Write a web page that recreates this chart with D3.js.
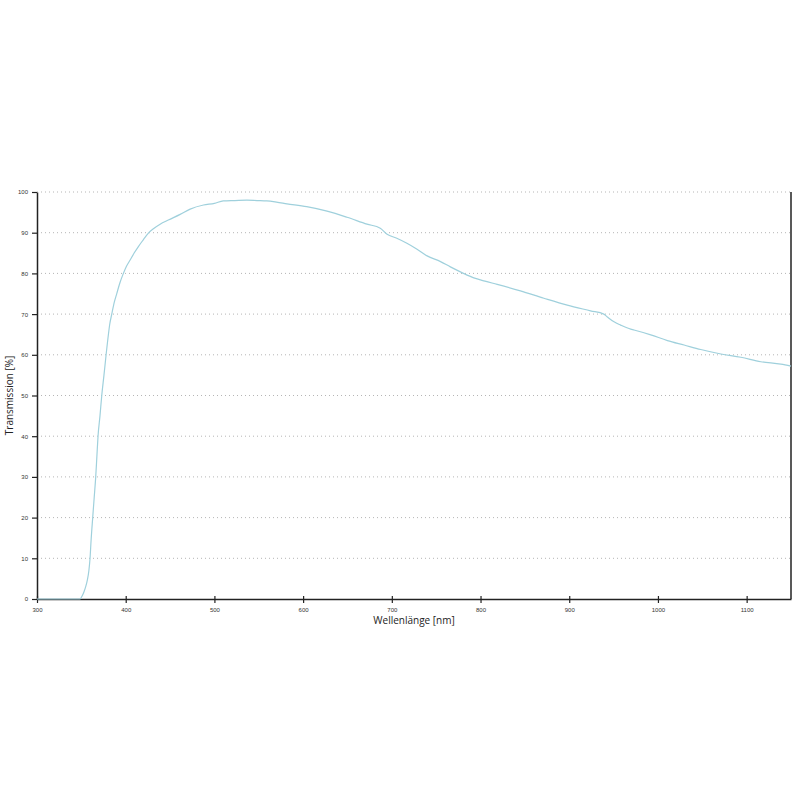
<!DOCTYPE html>
<html>
<head>
<meta charset="utf-8">
<script src="https://cdn.jsdelivr.net/npm/d3@7"></script>
<style>
  body { margin: 0; background: #fff; }
  svg { font-family: "Open Sans", "Noto Sans", sans-serif; }
</style>
</head>
<body>
<div id="chart"></div>
<script>
// wavelength [nm] and transmission [%]
var wavelengths = [300, 320, 340, 348.5, 351, 353, 355, 356.8, 358.5, 359.8, 361, 362.8, 364.5, 366.2,
  367.5, 368.8, 371, 373, 375.5, 377.9, 380.5, 382, 384.3, 387, 390, 393.5, 397.4, 401, 405,
  409.5, 414.3, 420, 425.6, 432, 438.8, 448, 461.4, 472.7, 487.7, 500, 510, 523, 536.7, 548,
  559, 570, 581.8, 604, 627, 649.5, 672, 687, 694.7, 705, 717, 728, 739.8, 754.9, 766, 779,
  792.4, 805, 818.8, 845, 871.4, 897.8, 924, 939, 943, 950.5, 958, 969.3, 973, 991.9, 1010.7,
  1029.5, 1048.3, 1071, 1093.5, 1116, 1138.6, 1150];
var transmission = [0, 0, 0, 0, 0.8, 1.8, 3.1, 4.7, 7, 10, 14.5, 20, 25, 30,
  35, 40, 45, 50, 55, 60, 65, 67.5, 70, 72.8, 75.1, 77.7, 80, 81.8, 83.3,
  85, 86.6, 88.3, 89.9, 91.1, 92.1, 93.1, 94.5, 95.8, 96.8, 97.2, 97.8, 97.9, 98, 97.9,
  97.8, 97.5, 97.1, 96.4, 95.3, 93.8, 92.1, 91.1, 89.6, 88.7, 87.4, 86, 84.3, 82.9, 81.6, 80.2,
  78.9, 78.1, 77.3, 75.7, 73.9, 72.2, 70.8, 70, 69.3, 68.1, 67.3, 66.3, 66.1, 64.9, 63.5,
  62.4, 61.3, 60.2, 59.4, 58.3, 57.7, 57.2];

var xTicks = [300, 400, 500, 600, 700, 800, 900, 1000, 1100];
var yTicks = [0, 10, 20, 30, 40, 50, 60, 70, 80, 90, 100];

var data = wavelengths.map(function(w, i) { return {w: w, t: transmission[i]}; });

var svgWidth = 800;
var svgHeight = 800;
var margin = {top: 192, right: 9, bottom: 201, left: 37};
var width = svgWidth - margin.left - margin.right;
var height = svgHeight - margin.top - margin.bottom;

var svg = d3.select("#chart")
  .append("svg")
  .attr("width", svgWidth)
  .attr("height", svgHeight);

var g = svg.append("g")
  .attr("transform", `translate(${margin.left},${margin.top})`);

var x = d3.scaleLinear().domain([300, 1150]).range([0, width]);
var y = d3.scaleLinear().domain([0, 100]).range([height, 0]);

// dotted grid lines
g.append("g")
  .selectAll("line")
  .data(yTicks.filter(d => d > 0))
  .enter()
  .append("line")
  .attr("x1", 0)
  .attr("x2", width)
  .attr("y1", d => y(d))
  .attr("y2", d => y(d))
  .attr("stroke", "#b5b5b5")
  .attr("stroke-width", 1)
  .attr("stroke-dasharray", "1,3");

// y axis
var yAxis = g.append("g")
  .call(d3.axisLeft(y).tickValues(yTicks).tickSize(5).tickSizeOuter(0).tickPadding(4));
yAxis.select(".domain").attr("stroke", "#222").attr("stroke-width", 1.5);
yAxis.selectAll(".tick line").attr("stroke", "#222").attr("stroke-width", 1.2);
yAxis.selectAll(".tick text").attr("font-size", 6).attr("fill", "#333");

// x axis
var xAxis = g.append("g")
  .attr("transform", `translate(0,${height})`)
  .call(d3.axisBottom(x).tickValues(xTicks).tickFormat(d3.format("d"))
    .tickSize(4).tickSizeOuter(0).tickPadding(5));
xAxis.select(".domain").attr("stroke", "#222").attr("stroke-width", 1.5);
xAxis.selectAll(".tick line").attr("y1", -3).attr("y2", 4).attr("stroke", "#222").attr("stroke-width", 1.2);
xAxis.selectAll(".tick text").attr("font-size", 6).attr("fill", "#333");

// right border
g.append("line")
  .attr("x1", width).attr("x2", width)
  .attr("y1", 0).attr("y2", height)
  .attr("stroke", "#222")
  .attr("stroke-width", 1.5);

// transmission curve
var line = d3.line()
  .x(d => x(d.w))
  .y(d => y(d.t))
  .curve(d3.curveMonotoneX);

g.append("path")
  .datum(data)
  .attr("d", line)
  .attr("fill", "none")
  .attr("stroke", "#9fd0dc")
  .attr("stroke-width", 1.2);

// axis titles
svg.append("text")
  .attr("x", margin.left + width / 2)
  .attr("y", 624)
  .attr("text-anchor", "middle")
  .attr("font-size", 10)
  .attr("fill", "#222")
  .text("Wellenlänge [nm]");

svg.append("text")
  .attr("transform", `translate(13,${margin.top + height / 2}) rotate(-90)`)
  .attr("text-anchor", "middle")
  .attr("font-size", 10)
  .attr("fill", "#222")
  .text("Transmission [%]");
</script>
</body>
</html>
